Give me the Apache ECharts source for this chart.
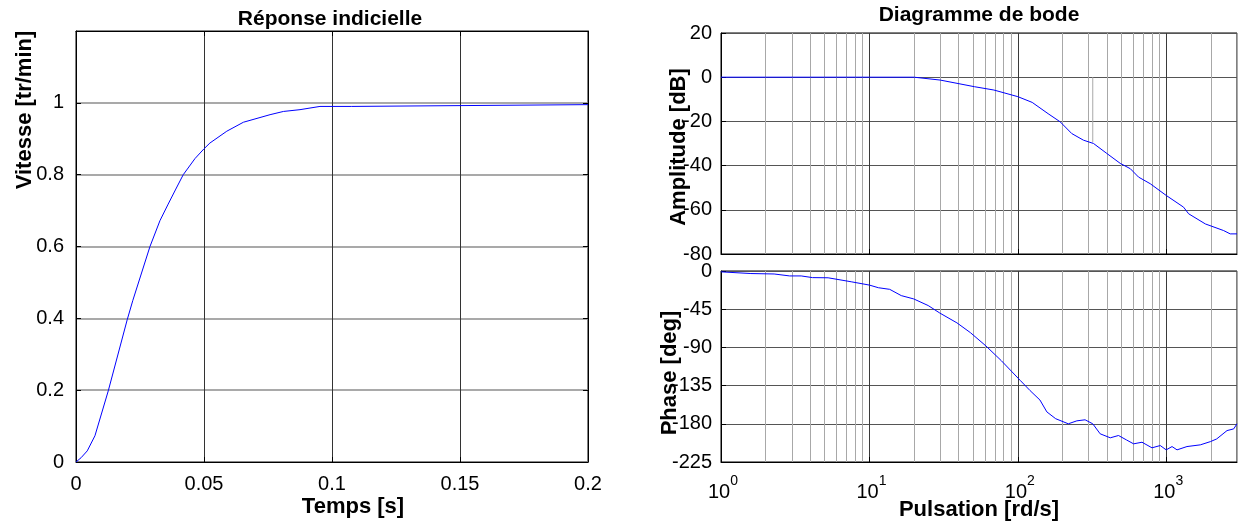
<!DOCTYPE html>
<html><head><meta charset="utf-8">
<script src="https://cdn.jsdelivr.net/npm/echarts@6/dist/echarts.min.js"></script>
<style>html,body{margin:0;padding:0;background:#fff}#c{width:1241px;height:522px}</style>
</head><body><div id="c"></div>
<script>
// ---- Step response (Réponse indicielle) ----
const stepTime  = [0, 0.002, 0.0044, 0.0074, 0.0126, 0.02, 0.0222, 0.0289, 0.0328, 0.036, 0.039, 0.0419, 0.0465, 0.05, 0.0523, 0.0589, 0.0654, 0.0758, 0.081, 0.0875, 0.0953, 0.1077, 0.108, 0.2];
const stepSpeed = [0, 0.012, 0.031, 0.073, 0.198, 0.396, 0.45, 0.6, 0.672, 0.718, 0.76, 0.8, 0.845, 0.872, 0.888, 0.921, 0.946, 0.967, 0.976, 0.981, 0.99, 0.99, 0.995, 0.995];

// ---- Bode amplitude ----
const ampFreq = [1, 10, 20, 30, 51, 69, 100, 125, 160, 193, 231, 277, 324, 398, 490, 573, 651, 781, 1000, 1309, 1416, 1837, 2438, 2700, 3000];
const ampDb   = [0, 0, 0, -1.3, -4.3, -5.8, -8.8, -11.4, -16.5, -20.2, -25.5, -28.5, -30, -34.5, -39, -41.4, -45.2, -48.2, -53.5, -58.8, -61.8, -66.4, -69.4, -70.9, -70.9];
// short grey vertical stub seen in the amplitude plot
const stubFreq = [320, 320];
const stubDb   = [0, -29.5];

// ---- Bode phase ----
const phFreq = [1, 1.59, 2.28, 2.9, 3.47, 4.14, 5.27, 7.54, 10, 11.5, 13.7, 16.4, 19.9, 24.9, 29.8, 38.9, 48, 61, 77.5, 104, 121, 141, 157, 180, 219, 250, 284, 320, 359, 420, 477, 540, 603, 687, 802, 912, 1000, 1095, 1183, 1380, 1698, 1993, 2190, 2570, 2850, 3000];
const phDeg  = [-1, -3, -3.5, -5.8, -5.8, -7.8, -8, -12.7, -16.6, -19.7, -21.6, -29, -32.9, -40.7, -49.5, -61.1, -72.7, -88.3, -105.7, -129, -140.9, -152, -166, -174, -180, -176.5, -175.3, -180, -191.8, -196.5, -193.8, -199, -203.6, -201.7, -208.3, -205.6, -210.7, -206.8, -210.7, -206.8, -204.8, -200.9, -197.8, -188, -186, -180];

// minor log grid lines
const minorFreq = [2,3,4,5,6,7,8,9,20,30,40,50,60,70,80,90,200,300,400,500,600,700,800,900,2000,3000];

const FONT = "'Liberation Sans', Arial, sans-serif";
const zip = (a, b) => a.map((v, i) => [v, b[i]]);

const chart = echarts.init(document.getElementById('c'), null, {renderer: 'canvas'});

const lbl = {color: '#000', fontFamily: FONT, fontSize: 20};
const inTick = {show: true, inside: true, length: 5, lineStyle: {color: '#000'}};
const blackLine = {show: true, onZero: false, lineStyle: {color: '#000', width: 1}};

function logLabel(v) {
  const e = Math.log10(v);
  const r = Math.round(e);
  if (Math.abs(e - r) > 1e-6) return '';
  return '{b|10}{s|' + r + '}';
}

function minorSeries(xi, yi) {
  return {
    type: 'line', xAxisIndex: xi, yAxisIndex: yi, data: [], silent: true, z: 1,
    markLine: {
      silent: true, symbol: ['none', 'none'], animation: false,
      label: {show: false},
      lineStyle: {type: 'solid', color: '#a8a8a8', width: 1},
      data: minorFreq.map(f => ({xAxis: f}))
    }
  };
}

const option = {
  animation: false,
  backgroundColor: '#fff',
  grid: [
    {left: 76, top: 31, width: 512, height: 431, show: true, borderColor: '#000', borderWidth: 1},
    {left: 721, top: 33, width: 516, height: 221, show: true, borderColor: '#000', borderWidth: 1},
    {left: 721, top: 271, width: 516, height: 191, show: true, borderColor: '#000', borderWidth: 1}
  ],
  xAxis: [
    {type: 'value', gridIndex: 0, min: 0, max: 0.2, interval: 0.05, position: 'bottom',
     axisLine: blackLine, axisTick: inTick,
     axisLabel: Object.assign({margin: 12}, lbl),
     splitLine: {show: true, lineStyle: {color: '#333', width: 1}}},
    {type: 'value', gridIndex: 0, min: 0, max: 0.2, interval: 0.05, position: 'top',
     axisLine: blackLine, axisTick: inTick, axisLabel: {show: false}, splitLine: {show: false}},
    {type: 'log', gridIndex: 1, min: 1, max: 3000, logBase: 10, position: 'bottom',
     axisLine: blackLine, axisTick: inTick, axisLabel: {show: false},
     splitLine: {show: true, lineStyle: {color: '#3a3a3a', width: 1}}},
    {type: 'log', gridIndex: 2, min: 1, max: 3000, logBase: 10, position: 'bottom',
     axisLine: blackLine, axisTick: inTick,
     axisLabel: {margin: 12, formatter: logLabel, showMaxLabel: false,
       rich: {
         b: {fontFamily: FONT, fontSize: 20, color: '#000', padding: [0, 0, 0, 4], verticalAlign: 'bottom'},
         s: {fontFamily: FONT, fontSize: 14, color: '#000', padding: [0, 0, 14, 0], verticalAlign: 'bottom'}
       }},
     splitLine: {show: true, lineStyle: {color: '#3a3a3a', width: 1}}}
  ],
  yAxis: [
    {type: 'value', gridIndex: 0, min: 0, max: 1.2, interval: 0.2, position: 'left',
     axisLine: blackLine, axisTick: inTick,
     axisLabel: Object.assign({margin: 12, showMaxLabel: false}, lbl),
     splitLine: {show: true, lineStyle: {color: '#8c8c8c', width: 1.5}}},
    {type: 'value', gridIndex: 0, min: 0, max: 1.2, interval: 0.2, position: 'right',
     axisLine: blackLine, axisTick: inTick, axisLabel: {show: false}, splitLine: {show: false}},
    {type: 'value', gridIndex: 1, min: -80, max: 20, interval: 20, position: 'left',
     axisLine: blackLine, axisTick: inTick,
     axisLabel: Object.assign({margin: 9}, lbl),
     splitLine: {show: true, lineStyle: {color: '#555', width: 1}}},
    {type: 'value', gridIndex: 2, min: -225, max: 0, interval: 45, position: 'left',
     axisLine: blackLine, axisTick: inTick,
     axisLabel: Object.assign({margin: 9}, lbl),
     splitLine: {show: true, lineStyle: {color: '#555', width: 1}}}
  ],
  series: [
    minorSeries(2, 2),
    minorSeries(3, 3),
    {type: 'line', name: 'stub', xAxisIndex: 2, yAxisIndex: 2, data: zip(stubFreq, stubDb),
     symbol: 'none', lineStyle: {color: '#a8a8a8', width: 1}, z: 2},
    {type: 'line', name: 'Vitesse', xAxisIndex: 0, yAxisIndex: 0, data: zip(stepTime, stepSpeed),
     symbol: 'none', lineStyle: {color: '#0000ff', width: 1}, z: 5},
    {type: 'line', name: 'Amplitude', xAxisIndex: 2, yAxisIndex: 2, data: zip(ampFreq, ampDb),
     symbol: 'none', lineStyle: {color: '#0000ff', width: 1}, z: 5},
    {type: 'line', name: 'Phase', xAxisIndex: 3, yAxisIndex: 3, data: zip(phFreq, phDeg),
     symbol: 'none', lineStyle: {color: '#0000ff', width: 1}, z: 5}
  ],
  graphic: [
    {type: 'text', x: 330, y: 19, style: {text: 'Réponse indicielle', font: 'bold 21px ' + FONT, fill: '#000', align: 'center', verticalAlign: 'middle'}},
    {type: 'text', x: 979, y: 15, style: {text: 'Diagramme de bode', font: 'bold 21px ' + FONT, fill: '#000', align: 'center', verticalAlign: 'middle'}},
    {type: 'text', x: 353, y: 507, style: {text: 'Temps [s]', font: 'bold 22px ' + FONT, fill: '#000', align: 'center', verticalAlign: 'middle'}},
    {type: 'text', x: 979, y: 510, style: {text: 'Pulsation [rd/s]', font: 'bold 22px ' + FONT, fill: '#000', align: 'center', verticalAlign: 'middle'}},
    {type: 'text', x: 25, y: 110, rotation: Math.PI / 2, style: {text: 'Vitesse [tr/min]', font: 'bold 22px ' + FONT, fill: '#000', align: 'center', verticalAlign: 'middle'}},
    {type: 'text', x: 679, y: 147, rotation: Math.PI / 2, z: 100, style: {text: 'Amplitude [dB]', font: 'bold 22px ' + FONT, fill: '#000', align: 'center', verticalAlign: 'middle'}},
    {type: 'text', x: 670, y: 373, rotation: Math.PI / 2, z: 100, style: {text: 'Phase [deg]', font: 'bold 22px ' + FONT, fill: '#000', align: 'center', verticalAlign: 'middle'}}
  ]
};
chart.setOption(option);
</script>
</body></html>
